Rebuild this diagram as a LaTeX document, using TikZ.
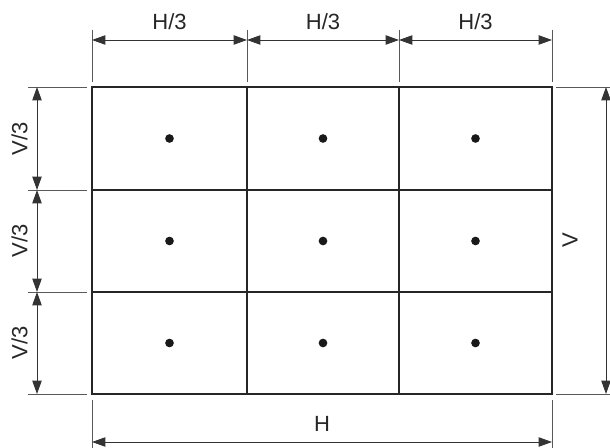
\documentclass[tikz,border=0pt]{standalone}
\usepackage{fontspec}
\setmainfont{Liberation Sans}
\usetikzlibrary{arrows.meta}

\tikzset{
  dimline/.style={draw=black!80, line width=0.7pt,
    {Triangle[length=10pt,width=7pt]}-{Triangle[length=10pt,width=7pt]}},
  extline/.style={draw=black!65, line width=0.55pt},
  dimlabel/.style={font=\fontsize{16.5}{19}\selectfont, text=black!85, inner sep=0pt},
  celldot/.style={circle, fill=black!90, inner sep=0pt, minimum size=6.5pt}
}

\begin{document}
\begin{tikzpicture}[x=0.75pt,y=-0.75pt]
    \useasboundingbox (0,0) rectangle (610,448);

    % grid corners
    \foreach \x [count=\i from 0] in {92,247,399,552}
      \foreach \y [count=\j from 0] in {87,190,292,394}
        \coordinate (g\i\j) at (\x,\y);

    % cells
    \foreach \i in {1,2} {
      \draw[black!85, line width=1pt] (g\i0) -- (g\i3);
      \draw[black!85, line width=1pt] (g0\i) -- (g3\i);
    }
    \draw[black!85, line width=1.5pt] (g00) rectangle (g33);

    % centre dots
    \foreach \x [count=\i] in {169.5,323,475.5}
      \foreach \y [count=\j] in {138.5,241,343}
        \node[celldot] (d\i\j) at (\x,\y) {};

    % top: H/3
    \foreach \x [count=\i from 0] in {92,247,399,552} {
      \coordinate (t\i) at (\x,40);
      \draw[extline] (\x,30) -- (\x,82);
    }
    \foreach \i/\j in {0/1,1/2,2/3}
      \draw[dimline] (t\i) -- (t\j);
    \foreach \x [count=\i] in {169.5,323,475.5}
      \node[dimlabel] (h\i) at (\x,22) {H/3};

    % left: V/3
    \foreach \y [count=\j from 0] in {87,190,292,394} {
      \coordinate (l\j) at (37,\y);
      \draw[extline] (28,\y) -- (87,\y);
    }
    \foreach \i/\j in {0/1,1/2,2/3}
      \draw[dimline] (l\i) -- (l\j);
    \foreach \y [count=\j] in {138.5,241,343}
      \node[dimlabel, rotate=90] (v\j) at (19.5,\y) {V/3};

    % right: V
    \coordinate (rtop) at (606,87);
    \coordinate (rbot) at (606,394);
    \draw[extline] (556,87) -- (610,87);
    \draw[extline] (556,394) -- (610,394);
    \draw[dimline] (rtop) -- (rbot);
    \node[dimlabel, rotate=90] (vall) at (570,240.5) {V};

    % bottom: H
    \coordinate (bleft) at (92,442);
    \coordinate (bright) at (552,442);
    \draw[extline] (92,400) -- (92,448);
    \draw[extline] (552,400) -- (552,448);
    \draw[dimline] (bleft) -- (bright);
    \node[dimlabel] (hall) at (322,424) {H};
\end{tikzpicture}
\end{document}
